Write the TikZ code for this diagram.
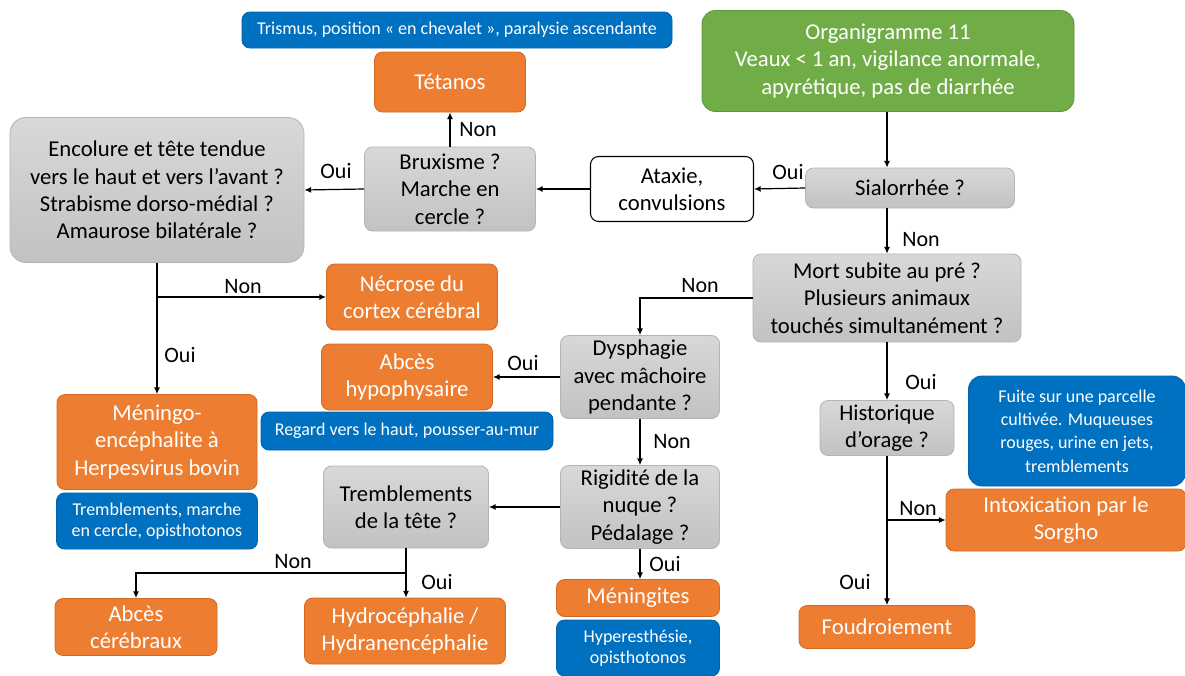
\documentclass[tikz,border=0pt]{standalone}
\usepackage{fontspec}
\setmainfont{Carlito}
\usetikzlibrary{arrows.meta}
\definecolor{orng}{HTML}{ED7D31}
\definecolor{orngb}{HTML}{D06A22}
\definecolor{grn}{HTML}{70AD47}
\definecolor{grnb}{HTML}{5E9639}
\definecolor{blu}{HTML}{0070C0}
\definecolor{blub}{HTML}{0063AA}
\definecolor{gryt}{HTML}{D8D8D8}
\definecolor{grybt}{HTML}{C2C2C2}
\definecolor{gryb}{HTML}{B4B4B4}
\begin{document}
\begin{tikzpicture}[x=0.75pt,y=-0.75pt,
  base/.style={rounded corners=6pt, align=center, inner sep=0pt, line width=0.6pt},
  wh/.style 2 args={minimum width={#1*0.75pt}, minimum height={#2*0.75pt}},
  big/.style={font=\fontsize{17}{20.5}\selectfont},
  small/.style={font=\fontsize{13.5}{16}\selectfont},
  qbox/.style={base, big, draw=gryb, top color=gryt, bottom color=grybt},
  dxbox/.style={base, big, draw=orngb, fill=orng, text=white},
  infobox/.style={base, small, draw=blub, fill=blu, text=white},
  startbox/.style={base, big, draw=grnb, fill=grn, text=white, rounded corners=10pt},
  plainbox/.style={base, big, draw=black, fill=white, line width=0.8pt},
  arr/.style={-{Latex[length=5pt,width=4.5pt]}, line width=0.9pt},
  lbl/.style={font=\fontsize{16.5}{18}\selectfont, inner sep=0pt}
]
\useasboundingbox (0,0) rectangle (1185,675);
\fill[white] (0,0) rectangle (1185,675);

% --- boxes ---
\node[infobox, wh={430}{36}] (trismus) at (457,30) {Trismus, position « en chevalet », paralysie ascendante};
\node[dxbox, wh={151}{60}] (tetanos) at (450,82) {Tétanos};
\node[startbox, wh={372}{101}] (org) at (888,61) {Organigramme 11\\Veaux < 1 an, vigilance anormale,\\apyrétique, pas de diarrhée};
\node[qbox, wh={294}{145}, rounded corners=12pt] (enc) at (157,190) {Encolure et tête tendue\\vers le haut et vers l’avant ?\\Strabisme dorso-médial ?\\Amaurose bilatérale ?};
\node[qbox, wh={171}{84}] (brux) at (450,189) {Bruxisme ?\\Marche en\\cercle ?};
\node[plainbox, wh={163}{65}] (ataxie) at (672,189) {Ataxie,\\convulsions};
\node[qbox, wh={209}{40}] (sial) at (910,188) {Sialorrhée ?};
\node[qbox, wh={268}{88}] (mort) at (887,298) {Mort subite au pré ?\\Plusieurs animaux\\touchés simultanément ?};
\node[dxbox, wh={171}{66}] (necrose) at (412,297) {Nécrose du\\cortex cérébral};
\node[dxbox, wh={171}{66}] (abhyp) at (407,377) {Abcès\\hypophysaire};
\node[qbox, wh={159}{83}] (dys) at (640,377) {Dysphagie\\avec mâchoire\\pendante ?};
\node[infobox, wh={292}{38}] (regard) at (407,431) {Regard vers le haut, pousser-au-mur};
\node[dxbox, wh={200}{95}] (meningo) at (157,442) {Méningo-\\encéphalite à\\Herpesvirus bovin};
\node[infobox, wh={201}{56}] (tremb) at (157,521) {Tremblements, marche\\en cercle, opisthotonos};
\node[qbox, wh={165}{82}] (tete) at (406,507) {Tremblements\\de la tête ?};
\node[qbox, wh={159}{83}] (rig) at (640,507) {Rigidité de la\\nuque ?\\Pédalage ?};
\node[dxbox, wh={163}{37}] (meningites) at (638,598) {Méningites};
\node[infobox, wh={163}{56}] (hyper) at (638,648) {Hyperesthésie,\\opisthotonos};
\node[dxbox, wh={162}{57}] (abcer) at (136,627) {Abcès\\cérébraux};
\node[dxbox, wh={201}{66}] (hydro) at (405,631) {Hydrocéphalie /\\Hydranencéphalie};
\node[qbox, wh={134}{55}] (hist) at (887,428) {Historique\\d’orage ?};
\node[infobox, wh={217}{110}, rounded corners=10pt, font=\fontsize{13.5}{17.5}\selectfont] (fuite) at (1077,431) {Fuite sur une parcelle\\cultivée. Muqueuses\\rouges, urine en jets,\\tremblements};
\node[dxbox, wh={240}{62}] (intox) at (1066,520) {Intoxication par le\\Sorgho};
\node[dxbox, wh={176}{43}] (foud) at (887,627) {Foudroiement};

% --- connectors ---
\draw[arr] (org.south -| mort.north) -- (mort.north |- sial.north);
\draw[arr] (sial.west) -- (ataxie.east);
\draw[arr] (ataxie.west) -- (brux.east);
\draw[arr] (brux.north) -- (tetanos.south);
\draw[arr] (brux.west) -- (enc.east);
\draw[arr] (mort.north |- sial.south) -- (mort.north);
\draw[arr] (enc.south) -- (meningo.north);
\draw[arr] (enc.south |- necrose.west) -- (necrose.west);
\draw[arr] (mort.west) -| (dys.north);
\draw[arr] (mort.south) -- (hist.north);
\draw[arr] (dys.west) -- (abhyp.east);
\draw[arr] (dys.south) -- (rig.north);
\draw[arr] (rig.west) -- (tete.east);
\draw[arr] (rig.south) -- (meningites.north -| rig.south);
\draw[arr] (tete.south) -- (hydro.north -| tete.south);
\coordinate (tsplit) at (406,573);
\draw[arr] (tsplit) -| (abcer.north);
\draw[arr] (hist.south) -- (foud.north);
\draw[arr] (hist.south |- intox.west) -- (intox.west);

% --- answer labels ---
\node[lbl] (l1) at (788,172) {Oui};
\node[lbl] (l2) at (478,130) {Non};
\node[lbl] (l3) at (336,171) {Oui};
\node[lbl] (l4) at (921,240) {Non};
\node[lbl] (l5) at (243,287) {Non};
\node[lbl] (l6) at (180,355) {Oui};
\node[lbl] (l7) at (700,286) {Non};
\node[lbl] (l8) at (921,382) {Oui};
\node[lbl] (l9) at (523,363) {Oui};
\node[lbl] (l10) at (672,442) {Non};
\node[lbl] (l11) at (665,564) {Oui};
\node[lbl] (l12) at (293,562) {Non};
\node[lbl] (l13) at (437,582) {Oui};
\node[lbl] (l14) at (918,509) {Non};
\node[lbl] (l15) at (855,582) {Oui};
\end{tikzpicture}
\end{document}
